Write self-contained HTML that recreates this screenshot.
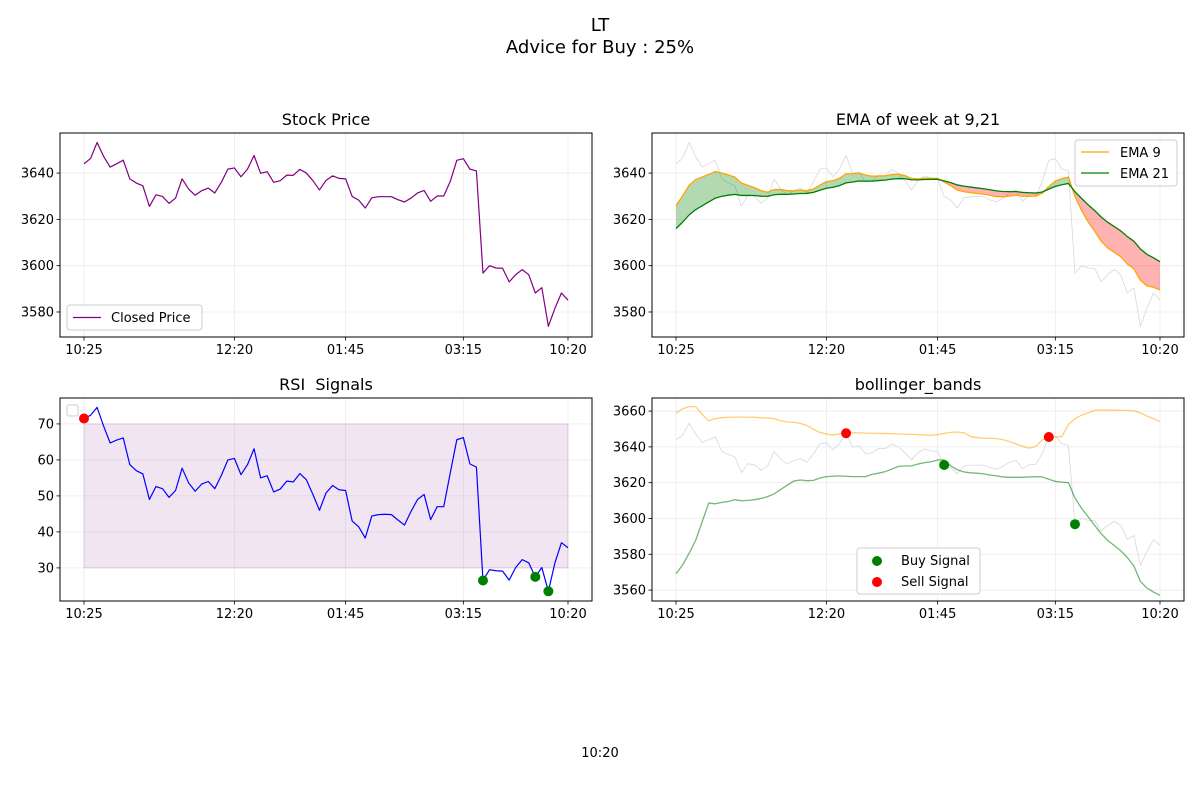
<!DOCTYPE html>
<html><head><meta charset="utf-8"><style>
body{margin:0;background:#fff;}
svg{display:block;font-family:"DejaVu Sans","Liberation Sans",sans-serif;}
text{white-space:pre;}
</style></head><body>
<svg id="fig" width="1200" height="800" viewBox="0 0 1200 800" xmlns="http://www.w3.org/2000/svg">
<text x="600" y="31" text-anchor="middle" font-size="18">LT</text>
<text x="600" y="53" text-anchor="middle" font-size="18">Advice for Buy : 25%</text>
<text x="600" y="757" text-anchor="middle" font-size="13">10:20</text>
</svg>
<script>
const xTickLabels = ["10:25","12:20","01:45","03:15","10:20"];
const xTickIdx = [0,23,40,58,74];
const price = [3644.0,3646.3,3653.2,3647.2,3642.6,3644.0,3645.6,3637.5,3635.7,3634.5,3625.6,3630.6,3629.9,3626.9,3629.2,3637.5,3633.1,3630.4,3632.4,3633.5,3631.4,3636.0,3641.7,3642.2,3638.4,3641.7,3647.6,3639.9,3640.6,3636.0,3636.7,3639.1,3639.0,3641.6,3640.0,3636.7,3632.7,3636.8,3638.8,3637.7,3637.5,3629.9,3628.3,3624.9,3629.3,3629.8,3629.8,3629.8,3628.5,3627.5,3629.2,3631.4,3632.5,3627.8,3630.1,3630.1,3636.4,3645.5,3646.2,3641.7,3640.9,3596.8,3600.0,3599.0,3598.9,3593.0,3596.1,3598.3,3596.1,3588.2,3590.5,3573.8,3581.6,3588.2,3585.1];
const rsi = [71.5,72.4,74.6,69.4,64.7,65.5,66.1,58.7,57.0,56.1,49.0,52.6,52.0,49.6,51.5,57.7,53.6,51.3,53.3,54.0,52.0,55.7,60.0,60.4,55.9,58.7,63.1,55.0,55.6,51.1,51.9,54.1,53.9,56.2,54.5,50.4,46.0,50.8,52.9,51.7,51.5,43.0,41.4,38.3,44.4,44.8,44.9,44.8,43.3,41.9,45.7,49.0,50.4,43.4,47.0,47.0,56.4,65.6,66.2,58.9,58.0,26.5,29.5,29.2,29.1,26.6,30.1,32.3,31.4,27.5,30.1,23.5,31.4,37.0,35.6];
const upper = [3658.9,3661.3,3662.5,3662.5,3658.2,3654.5,3655.8,3656.3,3656.5,3656.6,3656.6,3656.6,3656.5,3656.3,3656.1,3655.8,3654.6,3653.9,3653.7,3653.1,3652,3649.8,3648.1,3647.2,3646.6,3647.3,3647.7,3647.9,3647.8,3647.7,3647.6,3647.5,3647.5,3647.4,3647.2,3647.1,3647,3646.8,3646.6,3646.5,3646.8,3647.5,3648.1,3648.3,3647.9,3645.8,3645.2,3644.8,3644.8,3644.6,3644,3642.9,3641.6,3640.3,3639.3,3640.3,3643.9,3645.2,3645.4,3645.8,3652.5,3655.7,3657.7,3659,3660.4,3660.6,3660.5,3660.5,3660.4,3660.3,3660.2,3659,3657.2,3655.8,3654];
const lower = [3569.1,3574,3580.5,3587.7,3598.1,3608.6,3608.2,3609,3609.5,3610.5,3609.9,3610.1,3610.5,3611.2,3612.2,3613.7,3616.2,3618.6,3620.9,3621.5,3621.1,3621.3,3622.6,3623.4,3623.6,3623.8,3623.6,3623.4,3623.4,3623.4,3624.7,3625.3,3626.2,3627.6,3629.1,3629.3,3629.4,3630.4,3631.2,3631.7,3632.7,3632.7,3629.4,3627.2,3626,3625.5,3625.3,3624.9,3624.3,3623.8,3623.2,3623,3623,3623,3623.2,3623.4,3623.2,3621.9,3620.7,3620.3,3620,3611.4,3605.7,3601,3596.2,3591.5,3587.7,3584.9,3582,3578.2,3573.5,3564.9,3561.1,3558.9,3557];
const ema9Seed = 3626;
const ema21Seed = 3616;
const rsiSellIdx = [0];
const rsiBuyIdx = [61,69,71];
const bbSellIdx = [26,57];
const bbBuyIdx = [41,61];
const priceTicks = [3580,3600,3620,3640];
const rsiTicks = [30,40,50,60,70];
const bbTicks = [3560,3580,3600,3620,3640,3660];

const NS="http://www.w3.org/2000/svg";
const svg=document.getElementById('fig');
function mk(tag,attrs,parent){const e=document.createElementNS(NS,tag);for(const k in attrs)e.setAttribute(k,attrs[k]);(parent||svg).appendChild(e);return e;}

function ema(arr,span,seed){const a=2/(span+1);const out=[];let v=seed;for(let i=0;i<arr.length;i++){v=i===0?seed:a*arr[i]+(1-a)*v;out.push(v);}return out;}
const ema9=ema(price,9,ema9Seed);
const ema21=ema(price,21,ema21Seed);

function panel(name,L,T,W,H,ymin,ymax,yticks,title){
  const g=mk('g',{});
  
  
  const n=price.length;
  const xs=i=>L+24+i*(W-48)/(n-1);
  const ys=v=>T+H-(v-ymin)/(ymax-ymin)*H;
  xTickIdx.forEach((ti,k)=>{
    const gl=mk('line',{x1:xs(ti),x2:xs(ti),y1:T,y2:T+H,stroke:'#ebebeb','stroke-width':0.8},g);
    
    
    mk('line',{x1:xs(ti),x2:xs(ti),y1:T+H,y2:T+H+3.5,stroke:'#000','stroke-width':0.8},g);
    const t=mk('text',{x:xs(ti),y:T+H+17,'text-anchor':'middle','font-size':13},g);
    t.textContent=xTickLabels[k];
    
    
  });
  yticks.forEach(v=>{
    const gl=mk('line',{x1:L,x2:L+W,y1:ys(v),y2:ys(v),stroke:'#ebebeb','stroke-width':0.8},g);
    
    
    mk('line',{x1:L-3.5,x2:L,y1:ys(v),y2:ys(v),stroke:'#000','stroke-width':0.8},g);
    const t=mk('text',{x:L-6,y:ys(v)+4.5,'text-anchor':'end','font-size':13},g);
    t.textContent=v;
    
    
  });
  const tt=mk('text',{x:L+W/2,y:T-8,'text-anchor':'middle','font-size':16},g);
  tt.textContent=title;
  
  
  return {g,xs,ys,L,T,W,H};
}
function frame(p){const r=mk('rect',{x:p.L,y:p.T,width:p.W,height:p.H,fill:'none',stroke:'#000','stroke-width':1},p.g);}
function line(p,arr,color,w,name){
  const d=arr.map((v,i)=>(i?'L':'M')+p.xs(i).toFixed(2)+' '+p.ys(v).toFixed(2)).join(' ');
  const e=mk('path',{d,fill:'none',stroke:color,'stroke-width':w,'stroke-linejoin':'round'},p.g);
  
  
  return e;
}
function dots(p,idx,arr,color,name){
  idx.forEach(i=>{const c=mk('circle',{cx:p.xs(i),cy:p.ys(arr[i]),r:5,fill:color},p.g);
    
    });
}

// Panel 1
const p1=panel('stock-price-panel',60,133,532,204,3569.2,3657.3,priceTicks,'Stock Price');
line(p1,price,'#800080',1.2,'closed-price-line');
frame(p1);
{const lg=mk('g',{},p1.g);
mk('rect',{x:67,y:305,width:135,height:25,rx:3,fill:'#fff',stroke:'#ccc'},lg);
mk('line',{x1:73,x2:101,y1:317.5,y2:317.5,stroke:'#800080','stroke-width':1.2},lg);
const t=mk('text',{x:111,y:322,'font-size':13},lg);t.textContent='Closed Price';}

// Panel 2
const p2=panel('ema-panel',652,133,532,204,3569.2,3657.3,priceTicks,'EMA of week at 9,21');
line(p2,price,'#d8d8d8',0.8,'price-background-line');
{
  // build contiguous runs by sign
  const n=price.length;
  let start=0;
  const sgn=i=>(ema9[i]-ema21[i])>=0;
  for(let i=1;i<=n;i++){
    if(i===n || sgn(i)!==sgn(start)){
      const end=Math.min(i,n-1);
      const pts=[];
      for(let k=start;k<=end;k++)pts.push(p2.xs(k).toFixed(2)+','+p2.ys(ema9[k]).toFixed(2));
      for(let k=end;k>=start;k--)pts.push(p2.xs(k).toFixed(2)+','+p2.ys(ema21[k]).toFixed(2));
      const col=sgn(start)?'rgba(0,128,0,0.3)':'rgba(255,0,0,0.3)';
      const f=mk('polygon',{points:pts.join(' '),fill:col,stroke:'none'},p2.g);
      
      
      start=i;
    }
  }
}
line(p2,ema9,'orange',1.3,'ema9-line');
line(p2,ema21,'green',1.3,'ema21-line');
frame(p2);
{const lg=mk('g',{},p2.g);
mk('rect',{x:1075,y:140,width:102,height:46,rx:3,fill:'#fff',stroke:'#ccc'},lg);
mk('line',{x1:1081,x2:1109,y1:152,y2:152,stroke:'orange','stroke-width':1.3},lg);
mk('line',{x1:1081,x2:1109,y1:173,y2:173,stroke:'green','stroke-width':1.3},lg);
let t=mk('text',{x:1120,y:157,'font-size':13},lg);t.textContent='EMA 9';
t=mk('text',{x:1120,y:178,'font-size':13},lg);t.textContent='EMA 21';}

// Panel 3
const p3=panel('rsi-panel',60,398,532,203,20.8,77.2,rsiTicks,'RSI  Signals');
{const r=mk('rect',{x:p3.xs(0),y:p3.ys(70),width:p3.xs(price.length-1)-p3.xs(0),height:p3.ys(30)-p3.ys(70),fill:'rgba(128,0,128,0.1)',stroke:'rgba(128,0,128,0.12)'},p3.g);
}
line(p3,rsi,'blue',1.2,'rsi-line');
dots(p3,rsiSellIdx,rsi,'red','rsi-sell-marker');
dots(p3,rsiBuyIdx,rsi,'green','rsi-buy-marker');
frame(p3);
{const r=mk('rect',{x:67,y:405,width:11,height:11,rx:2,fill:'#fff',stroke:'#ccc'},p3.g);}

// Panel 4
const p4=panel('bollinger-panel',652,398,532,203,3553.9,3667.3,bbTicks,'bollinger_bands');
line(p4,price,'#d8d8d8',0.8,'price-background-line');
line(p4,upper,'rgba(255,165,0,0.55)',1.3,'upper-band-line');
line(p4,lower,'rgba(0,128,0,0.55)',1.3,'lower-band-line');
dots(p4,bbBuyIdx,price,'green','bb-buy-marker');
dots(p4,bbSellIdx,price,'red','bb-sell-marker');
frame(p4);
{const lg=mk('g',{},p4.g);
mk('rect',{x:857,y:548,width:123,height:46,rx:3,fill:'#fff',stroke:'#ccc'},lg);
mk('circle',{cx:877,cy:561,r:5,fill:'green'},lg);
mk('circle',{cx:877,cy:582,r:5,fill:'red'},lg);
let t=mk('text',{x:901,y:565,'font-size':13},lg);t.textContent='Buy Signal';
t=mk('text',{x:901,y:586,'font-size':13},lg);t.textContent='Sell Signal';}
</script>
</body></html>
